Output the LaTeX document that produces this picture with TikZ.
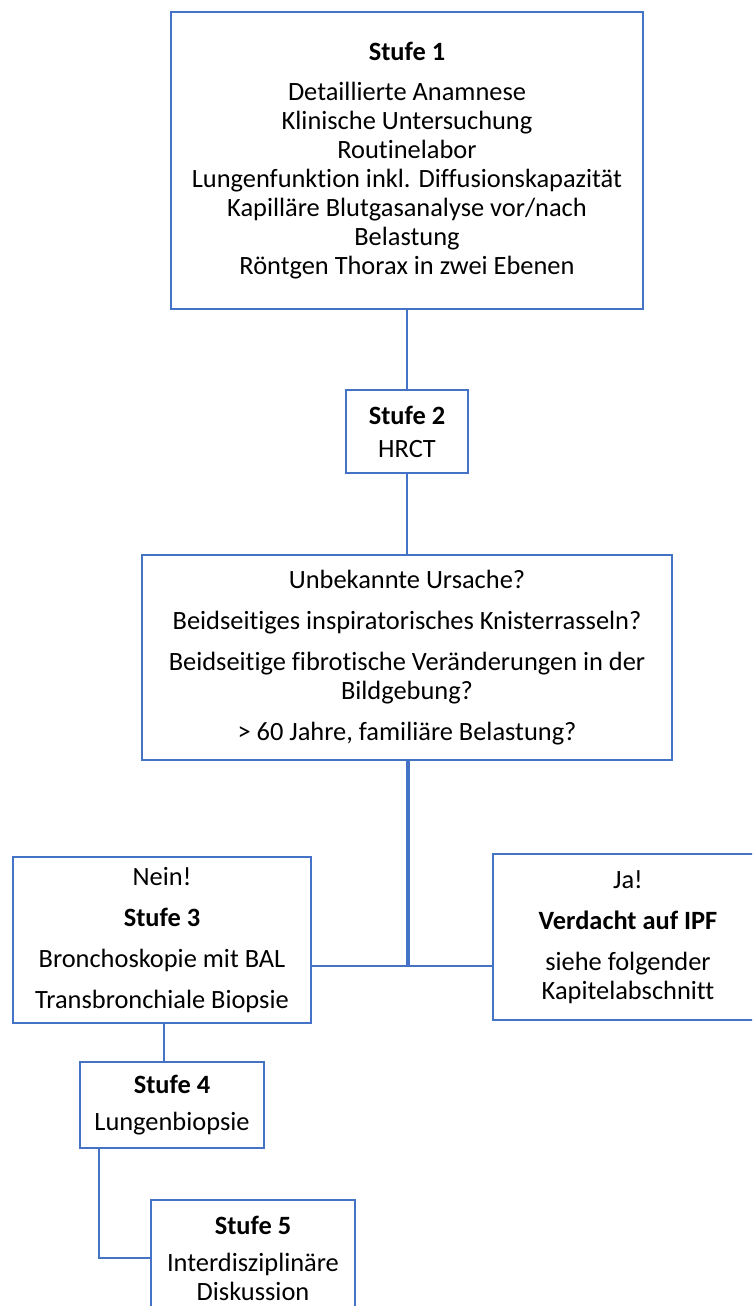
\documentclass[tikz,border=0pt]{standalone}
\usepackage{fontspec}
\setmainfont{Carlito}[Ligatures=NoCommon]
\definecolor{boxblue}{RGB}{68,114,196}
\begin{document}
\begin{tikzpicture}[x=0.5pt,y=-0.5pt,
  box/.style={draw=boxblue,line width=1pt,fill=white,rectangle,align=center,inner sep=0pt,
    font=\fontsize{13.2pt}{14.5pt}\selectfont},
  conn/.style={draw=boxblue,line width=1pt},
  thickconn/.style={draw=boxblue,line width=2pt}]
\useasboundingbox (0,0) rectangle (752,1306);
\clip (0,0) rectangle (752,1306);
\node[box,minimum width=236pt,minimum height=148.5pt] (b1) at (407,160.5)
  {\textbf{Stufe 1}\\[5.5pt]Detaillierte Anamnese\\Klinische Untersuchung\\Routinelabor\\Lungenfunktion inkl. Diffusionskapazität\\Kapilläre Blutgasanalyse vor/nach\\Belastung\\Röntgen Thorax in zwei Ebenen};
\node[box,minimum width=61pt,minimum height=41.5pt] (b2) at (407,431.5)
  {\textbf{Stufe 2}\\[2pt]HRCT};
\node[box,minimum width=265pt,minimum height=102.5pt] (b3) at (407,657.5)
  {Unbekannte Ursache?\\[6pt]Beidseitiges inspiratorisches Knisterrasseln?\\[6pt]Beidseitige fibrotische Veränderungen in der\\Bildgebung?\\[6pt]> 60 Jahre, familiäre Belastung?};
\node[box,minimum width=149pt,minimum height=83pt] (nein) at (162,940)
  {Nein!\\[6pt]\textbf{Stufe 3}\\[6pt]Bronchoskopie mit BAL\\[6pt]Transbronchiale Biopsie};
\node[box,minimum width=135pt,minimum height=83pt] (ja) at (628,937)
  {Ja!\\[6pt]\textbf{Verdacht auf IPF}\\[6pt]siehe folgender\\Kapitelabschnitt};
\node[box,minimum width=92pt,minimum height=43pt] (b4) at (172,1105)
  {\textbf{Stufe 4}\\[4pt]Lungenbiopsie};
\node[box,minimum width=102pt,minimum height=58pt] (b5) at (253,1258)
  {\textbf{Stufe 5}\\[4pt]Interdisziplinäre\\Diskussion};
\coordinate (j) at (408,966);
\coordinate (t4) at (99,1148);
\draw[conn] (b1.south) -- (b2.north);
\draw[conn] (b2.south) -- (b3.north);
\draw[thickconn] (b3.south -| j) -- (j);
\draw[conn] (j -| nein.east) -- (j -| ja.west);
\draw[conn] (nein.south -| 164,0) -- (b4.north -| 164,0);
\draw[conn] (t4) |- (b5.west);
\end{tikzpicture}
\end{document}
